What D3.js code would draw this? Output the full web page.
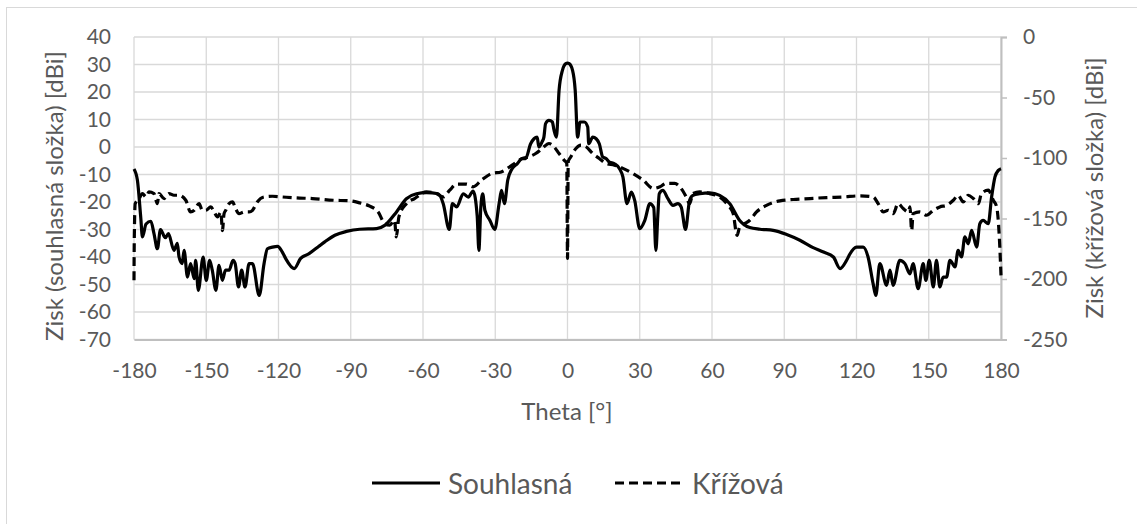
<!DOCTYPE html>
<html>
<head>
<meta charset="utf-8">
<script src="https://cdn.jsdelivr.net/npm/d3@7"></script>
<style>
  body { margin: 0; background: #fff; }
  text { font-family: Lato, "Open Sans", sans-serif; fill: #595959; }
</style>
</head>
<body>
<div id="chart"></div>
<script>
// Souhlasná (co-polar), left axis [dBi]
const souhlasnaTheta = [-180,-178.6,-177.2,-176.5,-175,-173,-171.7,-170.3,-169,-167,-165.7,-163.4,-162,-161.3,-160,-159.2,-157.8,-156.5,-155,-154.4,-153.3,-151.3,-150,-148.6,-147.5,-146,-144.7,-143.3,-142,-140.5,-138.9,-138,-136.6,-135.3,-133.9,-132.2,-130.8,-128,-126,-124.6,-122.5,-120.4,-118.4,-117,-113.5,-110.8,-107.3,-103.1,-100.8,-96.6,-91.8,-86.3,-79.3,-75.9,-71,-66.9,-62.7,-58.6,-53.7,-51.6,-49.1,-47.8,-46,-43.3,-41.2,-39.2,-37.5,-36.8,-36,-35.2,-34.3,-32.2,-30.2,-28.4,-27.4,-26.2,-24.8,-23,-20.9,-18.8,-17.4,-15.3,-13.9,-12.6,-11.9,-10.5,-9.8,-9.1,-7.7,-6.3,-5.6,-4.6,-3.5,-2.1,-0.7,0,0.7,2.1,3.2,4.2,5.2,7,8.4,8.8,10.5,11.9,13.2,14.6,16,17.4,19.5,21.6,23,24.7,26.5,27.9,30,32.1,34.2,35.8,36.7,37.5,38.1,39.6,41.7,43.8,45.8,47.2,49,50.7,52.1,54.9,59,63.2,67.4,71.5,75.7,79.9,85.4,91,96.5,102,106.3,110.4,113.2,115.9,117.2,120,122.8,124.8,126.9,128,129.7,132.5,133.9,135.2,138,140.1,142.2,143.5,145.6,147.7,148.8,150.2,151.9,153.2,154.6,156,157.4,158.8,160.9,162.2,163.6,165,166.4,167.8,169.9,171.2,172.6,174.7,176.1,177.5,178.9,180];
const souhlasnaGain = [-8,-12,-25.6,-32.7,-28,-27,-31.5,-37,-30,-33,-31.5,-37.6,-35,-40,-42.4,-37.6,-47.3,-42.4,-47.9,-41.2,-52.1,-40,-48.5,-41.2,-44.8,-52.1,-43,-48.5,-44.8,-44.8,-41.2,-42.4,-50.9,-44.8,-50.9,-42.4,-42.4,-54,-42.4,-37,-36.4,-36.1,-38.2,-40.6,-44.2,-40.5,-38.8,-36,-34.5,-32.1,-30.7,-29.9,-29.7,-28.5,-23.6,-18.8,-17,-16.6,-17,-20.6,-30,-20.6,-21.8,-17,-18.2,-16,-25,-37.6,-22,-17,-23,-26.7,-30,-20.6,-15.8,-20.6,-12,-7.9,-6.1,-4.2,-4.2,1.2,3,3.6,0,2,3.6,8.5,9.7,9.1,6.1,3.6,20.6,27.9,30.3,30.5,30.3,27.9,20.6,3.6,9.1,9.1,7.3,1.2,3.6,3,1.2,-3.6,-4.2,-5.5,-6.1,-7.9,-10.9,-20.6,-16.4,-19.4,-29.7,-26.7,-20.6,-22,-37.6,-25,-17,-15.8,-18.8,-21.2,-20.6,-21.8,-30,-19.4,-17.6,-17,-16.7,-17.6,-20.6,-26.7,-29.3,-29.9,-30.3,-31.8,-33.9,-36.6,-38.2,-40,-44.2,-41.2,-39,-36.4,-36.4,-40,-49.7,-54,-42.4,-50.3,-44.8,-50.3,-41.2,-42.4,-46.1,-42.4,-51.5,-42.4,-48.5,-41.2,-50.9,-41.2,-50.9,-47.3,-47.3,-41.2,-43.6,-37.6,-40,-32.7,-35.2,-30.3,-36.4,-27.9,-26.7,-27.9,-18.2,-10.9,-8.5,-7.9];

// Křížová (cross-polar), right axis [dBi]
const krizovaTheta = [-180,-179.9,-179.5,-178,-176.5,-175,-173.8,-171.7,-170.3,-169.6,-167.5,-165.5,-163.4,-161.3,-158.5,-156.5,-155,-153,-151.6,-150.2,-148.1,-146.7,-145.3,-143.9,-143.3,-142.6,-141.9,-140.5,-139.1,-137.8,-136.4,-134.3,-132.2,-130.8,-128.8,-126,-122.5,-118.4,-112.8,-105.9,-97.3,-90.4,-86.3,-82.1,-78.6,-75.9,-73.8,-71.8,-71.1,-70,-66.9,-63.5,-58.6,-54.5,-51.6,-48.9,-46,-42,-39.2,-35.7,-31.5,-27.5,-23,-18.8,-16,-13.2,-10.5,-7.7,-5.6,-3.5,-1.4,-0.3,0,0.3,1.4,3.5,5.6,7.7,10.5,13.2,16,19.5,23,27.2,31.4,35.6,38.4,40.9,44.5,47.2,49.3,50.7,52.1,54.9,59,63.2,66.7,68.8,70.4,71.5,73.6,75.7,78.5,82.6,88.2,93.7,100.7,107.6,114.5,121.4,126.9,129,131.1,133.2,135.2,137.3,139.4,141.5,142.2,142.9,143.5,146.3,149.1,151.9,154.6,157.4,160.2,162.2,164.3,166.4,168.5,170.6,171.9,174.7,176.8,178.2,179.3,180];
const krizovaGain = [-201,-170,-137.7,-134,-129.4,-132.2,-128,-129.4,-137.7,-129.4,-133.5,-129.4,-130.8,-130.8,-134.9,-144.6,-143.2,-137.7,-143.2,-143.2,-140.4,-144.6,-148.7,-144.6,-160,-146,-143.2,-137.7,-136.3,-141.8,-146,-144.6,-144.6,-143.2,-136.3,-132.2,-131.6,-132.2,-133,-133.5,-134.9,-135.4,-137.1,-139.8,-144.6,-154.2,-155.5,-151.4,-165.2,-148.7,-137.7,-133.5,-128,-129.4,-132.2,-126.6,-121.6,-121.6,-123.8,-118.3,-112.8,-111.5,-105.9,-100.4,-99,-96.3,-92.1,-88,-90.7,-96.3,-101.8,-104.5,-183,-103,-99,-92.1,-89.4,-90.7,-96.3,-100.4,-104.5,-105.9,-108.6,-112.8,-118.3,-125.2,-123.8,-121,-121,-125.2,-132.2,-137.7,-129.4,-128,-129.4,-132.2,-139.1,-146,-163.9,-157,-154.2,-151.4,-144.6,-139.1,-135.4,-134.3,-133.5,-132.7,-132.2,-131.3,-132.2,-137.7,-144.6,-143.2,-146,-137.7,-141.8,-144.6,-140.4,-160,-146,-144.6,-147.3,-143.2,-140.4,-139.1,-134.9,-130.8,-136.3,-130.8,-133.5,-137.7,-129.4,-126.6,-134.9,-140.4,-165.2,-197];

const xTicks = [-180,-150,-120,-90,-60,-30,0,30,60,90,120,150,180];
const yLeftTicks = [40,30,20,10,0,-10,-20,-30,-40,-50,-60,-70];
const yRightTicks = [0,-50,-100,-150,-200,-250];

const W = 1137, H = 524;
const plotLeft = 134, plotRight = 1001, plotTop = 37, plotBottom = 339.5;
const fmt = d => String(d); // plain hyphen like Excel

const svg = d3.select("#chart").append("svg")
  .attr("width", W).attr("height", H);

// chart frame
svg.append("rect")
  .attr("x", 6.5).attr("y", 7.5)
  .attr("width", 1300).attr("height", 700)
  .attr("fill", "none").attr("stroke", "#d9d9d9");

const x = d3.scaleLinear().domain([-180, 180]).range([plotLeft, plotRight]);
const yL = d3.scaleLinear().domain([-70, 40]).range([plotBottom, plotTop]);
const yR = d3.scaleLinear().domain([-250, 0]).range([plotBottom, plotTop]);

// gridlines
svg.append("g").selectAll("line").data(yLeftTicks).join("line")
  .attr("x1", plotLeft).attr("x2", plotRight)
  .attr("y1", d => yL(d)).attr("y2", d => yL(d))
  .attr("stroke", "#d9d9d9").attr("stroke-width", 1.3);
svg.append("g").selectAll("line").data(xTicks).join("line")
  .attr("x1", d => x(d)).attr("x2", d => x(d))
  .attr("y1", plotTop).attr("y2", plotBottom)
  .attr("stroke", "#d9d9d9").attr("stroke-width", 1.3);

// X axis
const gx = svg.append("g")
  .attr("transform", `translate(0,${plotBottom})`)
  .call(d3.axisBottom(x).tickValues(xTicks).tickFormat(fmt).tickSize(0).tickPadding(24));
gx.select(".domain").attr("stroke", "#bfbfbf").attr("stroke-width", 2);
gx.selectAll("text").style("font-size", "21px");

// Left axis
const gl = svg.append("g")
  .attr("transform", `translate(${plotLeft},0)`)
  .call(d3.axisLeft(yL).tickValues(yLeftTicks).tickFormat(fmt).tickSize(0).tickPadding(23));
gl.select(".domain").remove();
gl.selectAll("text").style("font-size", "21px");

// Right axis
const gr = svg.append("g")
  .attr("transform", `translate(${plotRight},0)`)
  .call(d3.axisRight(yR).tickValues(yRightTicks).tickFormat(fmt).tickSize(6).tickPadding(16));
gr.select(".domain").attr("stroke", "#bfbfbf").attr("stroke-width", 2);
gr.selectAll(".tick line").attr("stroke", "#bfbfbf").attr("stroke-width", 1.5);
gr.selectAll("text").style("font-size", "21px");

// Lines
const souhlasna = souhlasnaTheta.map((t, i) => [t, souhlasnaGain[i]]);
const krizova = krizovaTheta.map((t, i) => [t, krizovaGain[i]]);

svg.append("path")
  .datum(krizova)
  .attr("fill", "none")
  .attr("stroke", "#000")
  .attr("stroke-width", 3.2)
  .attr("stroke-dasharray", "9,5")
  .attr("stroke-linejoin", "round")
  .attr("d", d3.line().curve(d3.curveMonotoneX).x(d => x(d[0])).y(d => yR(d[1])));

svg.append("path")
  .datum(souhlasna)
  .attr("fill", "none")
  .attr("stroke", "#000")
  .attr("stroke-width", 3.2)
  .attr("stroke-linejoin", "round")
  .attr("d", d3.line().curve(d3.curveMonotoneX).x(d => x(d[0])).y(d => yL(d[1])));

// Axis titles
svg.append("text")
  .attr("x", 567).attr("y", 410)
  .attr("text-anchor", "middle")
  .attr("dominant-baseline", "central")
  .style("font-size", "24px")
  .text("Theta [°]");

svg.append("text")
  .attr("transform", "translate(53,196) rotate(-90)")
  .attr("text-anchor", "middle")
  .attr("dominant-baseline", "central")
  .style("font-size", "24px")
  .text("Zisk (souhlasná složka) [dBi]");

svg.append("text")
  .attr("transform", "translate(1093,188) rotate(-90)")
  .attr("text-anchor", "middle")
  .attr("dominant-baseline", "central")
  .style("font-size", "24px")
  .text("Zisk (křížová složka) [dBi]");

// Legend
const legendY = 483;
svg.append("line")
  .attr("x1", 372).attr("x2", 440).attr("y1", legendY).attr("y2", legendY)
  .attr("stroke", "#000").attr("stroke-width", 3.2);
svg.append("text")
  .attr("x", 448).attr("y", legendY)
  .attr("dominant-baseline", "central")
  .style("font-size", "28px")
  .text("Souhlasná");
svg.append("line")
  .attr("x1", 615).attr("x2", 685).attr("y1", legendY).attr("y2", legendY)
  .attr("stroke", "#000").attr("stroke-width", 3.2)
  .attr("stroke-dasharray", "9,5");
svg.append("text")
  .attr("x", 692).attr("y", legendY)
  .attr("dominant-baseline", "central")
  .style("font-size", "28px")
  .text("Křížová");
</script>
</body>
</html>
